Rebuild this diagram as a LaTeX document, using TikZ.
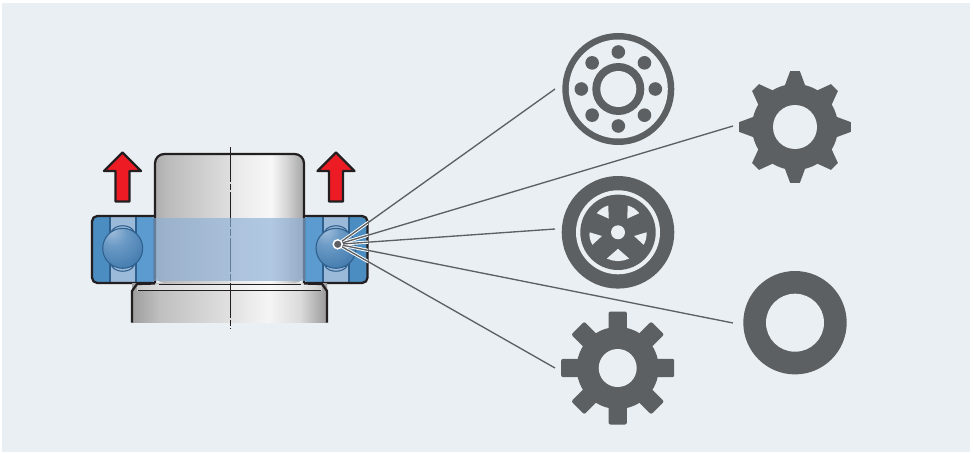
\documentclass[tikz,border=0pt]{standalone}
\usepackage{amsmath}
\usetikzlibrary{arrows.meta}

\definecolor{panelbg}{HTML}{E9EFF2}
\definecolor{icongray}{HTML}{5D6063}
\definecolor{inkblack}{HTML}{231F20}
\definecolor{arrowred}{HTML}{ED1C24}
\definecolor{ringouter}{HTML}{4C8DC1}
\definecolor{ringinner}{HTML}{5B9BCF}
\definecolor{cageblue}{HTML}{9BB9D9}
\definecolor{edgeblue}{HTML}{2F5F8C}
\definecolor{bandblue}{HTML}{8CAFD8}
\definecolor{ballhigh}{HTML}{A3BFDC}
\definecolor{ballmid}{HTML}{6C9BC6}
\definecolor{balllow}{HTML}{3F78AC}

\pgfdeclarehorizontalshading{shaftgray}{100bp}{color(0bp)=(black!32);color(25bp)=(black!32);color(30bp)=(black!26);color(50bp)=(black!13);color(51bp)=(black!9);color(64bp)=(black!3);color(69bp)=(black!16);color(75bp)=(black!36);color(100bp)=(black!36)}
\pgfdeclarehorizontalshading{collargray}{100bp}{color(0bp)=(black!38);color(25bp)=(black!38);color(32bp)=(black!25);color(50bp)=(black!12);color(60bp)=(black!4);color(68bp)=(black!14);color(75bp)=(black!40);color(100bp)=(black!40)}
\pgfdeclareradialshading{ballblue}{\pgfpoint{-14bp}{24bp}}{color(0bp)=(ballhigh);color(16bp)=(ballmid);color(42bp)=(balllow);color(80bp)=(edgeblue)}

\tikzset{
    panel/.style={fill=panelbg},
    icon/.style={fill=icongray},
    hole/.style={fill=panelbg},
    outline/.style={draw=inkblack, line width=1.7pt, line join=round},
    leader/.style={draw=icongray, line width=1pt},
    halo/.style={draw=white, line width=2.4pt},
}

\begin{document}
\begin{tikzpicture}[x=0.75pt,y=-0.75pt]
    \useasboundingbox (0,0) rectangle (974,453);
    \fill[panel] (2,3) rectangle (970,452);

    % rings of the two bearings: x of the four edges, then the ball
    \foreach \xa/\xb/\xc/\xd/\colA/\colB in {92/110/136/155/ringouter/ringinner, 304/323/349/367.5/ringinner/ringouter}{
        \begin{scope}
            \clip[rounded corners=4pt] (\xa,216) rectangle (\xd,283);
            \fill[\colA] (\xa,216) rectangle (\xb,283);
            \fill[cageblue] (\xb,216) rectangle (\xc,283);
            \fill[\colB] (\xc,216) rectangle (\xd,283);
        \end{scope}
        \draw[edgeblue, line width=0.8pt] (\xb,216) -- (\xb,283) (\xc,216) -- (\xc,283);
    }
    \draw[outline, rounded corners=4pt] (155,216) -- (92,216) -- (92,283) -- (155,283);
    \draw[outline, rounded corners=4pt] (304,216) -- (367.5,216) -- (367.5,283) -- (304,283);

    \foreach \bx in {122.7,336}{
        \draw[edgeblue, fill=cageblue, line width=0.8pt] (\bx-11,231) .. controls (\bx-7,224) and (\bx+7,224) .. (\bx+11,231) -- cycle;
        \draw[edgeblue, fill=cageblue, line width=0.8pt] (\bx-11,266) .. controls (\bx-7,273) and (\bx+7,273) .. (\bx+11,266) -- cycle;
        \draw[edgeblue, line width=0.8pt, shading=ballblue] (\bx,248.3) circle (20);
    }

    % shaft and its collar
    \shade[shading=collargray] (132,283) rectangle (327,322.7);
    \fill[white, opacity=0.45] (137,284) rectangle (322,290.5);
    \shade[shading=shaftgray, rounded corners=7pt] (155,283) -- (155,154) -- (304,154) -- (304,283) -- cycle;
    \draw[outline, rounded corners=7pt] (155,283) -- (155,154) -- (304,154) -- (304,283);
    \draw[outline] (132,322.7) -- (132,291) -- (137,284) -- (155,283.5);
    \draw[outline] (327,322.7) -- (327,291) -- (322,284) -- (304,283.5);
    \draw[inkblack, line width=0.6pt] (159,284.5) -- (301,284.5);
    \draw[inkblack, line width=0.6pt] (138,290.7) -- (321,290.7);

    % centre line
    \draw[inkblack, line width=0.5pt, dash pattern=on 26pt off 1.5pt on 5pt off 1.5pt] (230.3,147) -- (230.3,329);

    % see-through band
    \fill[bandblue, opacity=0.65] (154,218) rectangle (305,281);

    % lift arrows
    \foreach \ax in {122.5,336}{
        \draw[outline, fill=arrowred] (\ax,152.5) -- (\ax+18.5,171) -- (\ax+7,171) -- (\ax+7,201.5) -- (\ax-7,201.5) -- (\ax-7,171) -- (\ax-18.5,171) -- cycle;
    }

    % where the leaders start and end
    \coordinate (ballEnd) at (555,89);
    \coordinate (gearTopEnd) at (733,126);
    \coordinate (wheelEnd) at (555,229);
    \coordinate (ringEnd) at (733,323);
    \coordinate (gearLowEnd) at (555,368);
    \coordinate (hub) at (337.7,244.3);

    \begin{scope}
        \clip (300,210) rectangle (368,285);
        \foreach \tgt in {ballEnd,gearTopEnd,wheelEnd,ringEnd,gearLowEnd}{
            \draw[halo] (hub) -- (\tgt);
        }
    \end{scope}
    \foreach \tgt in {ballEnd,gearTopEnd,wheelEnd,ringEnd,gearLowEnd}{
        \draw[leader] (hub) -- (\tgt);
    }
    \fill[icon, draw=white, line width=1.1pt] (hub) circle (4.5);

    % ball bearing icon
    \coordinate (ballIcon) at (618.3,89);
    \begin{scope}[shift={(ballIcon)}]
        \fill[icon] (0,0) circle (56);
        \fill[hole] (0,0) circle (49.5);
        \fill[icon] (0,0) circle (26);
        \fill[hole] (0,0) circle (18);
        \foreach \a in {0,45,...,315}{
            \fill[icon] (\a:37) circle (6.8);
        }
    \end{scope}

    % toothed wheel with tapered teeth
    \coordinate (gearTop) at (795,127);
    \begin{scope}[shift={(gearTop)}]
        \fill[icon] (0,0) circle (43);
        \foreach \a in {0,45,...,315}{
            \fill[icon] (\a-14:42.5) -- (\a-5:56) -- (\a+5:56) -- (\a+14:42.5) -- cycle;
        }
        \fill[hole] (0,0) circle (22);
    \end{scope}

    % tyre and rim
    \coordinate (wheelIcon) at (618,232.3);
    \begin{scope}[shift={(wheelIcon)}]
        \fill[icon] (0,0) circle (56.3);
        \fill[hole] (0,0) circle (42);
        \fill[icon] (0,0) circle (37.7);
        \fill[hole] (0,0) circle (7);
        \foreach \c/\h in {-56/14,13/13,90/23,167/13,236/14}{
            \fill[hole] (\c:16.5) -- (\c-\h:28.5) -- (\c-\h/2:28.7) -- (\c:28.8) -- (\c+\h/2:28.7) -- (\c+\h:28.5) -- cycle;
        }
    \end{scope}

    % plain ring
    \coordinate (ringIcon) at (795,322.7);
    \fill[icon] (ringIcon) circle (51.7);
    \fill[hole] (ringIcon) circle (29);

    % toothed wheel with square teeth
    \coordinate (gearLow) at (617.7,368);
    \begin{scope}[shift={(gearLow)}]
        \fill[icon] (0,0) circle (41);
        \foreach \a in {0,45,...,315}{
            \fill[icon, rounded corners=1.5pt, rotate=\a] (30,-9.2) rectangle (56.5,9.2);
        }
        \fill[hole] (0,0) circle (19);
    \end{scope}
\end{tikzpicture}
\end{document}
